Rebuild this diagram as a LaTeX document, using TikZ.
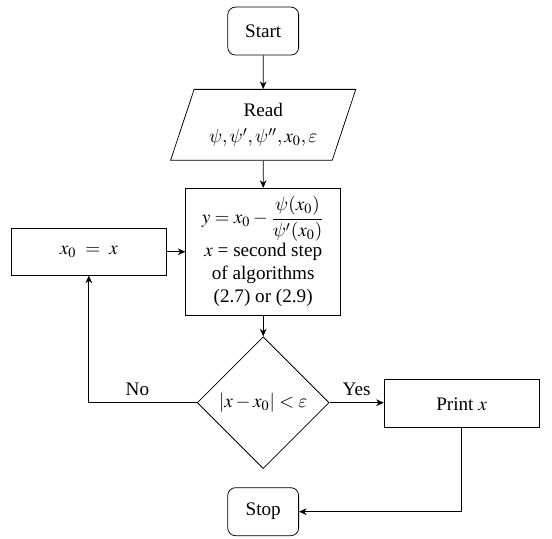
\documentclass[tikz,border=0pt]{standalone}
\usepackage{amsmath}
\usepackage{mathptmx}
\DeclareSymbolFont{cmgreek}{OML}{cmm}{m}{it}
\DeclareMathSymbol{\psi}{\mathord}{cmgreek}{"20}
\DeclareMathSymbol{\varepsilon}{\mathord}{cmgreek}{"22}
\usepackage{fontspec}
\setmainfont{Liberation Serif}
\usepackage{tikz}
\usetikzlibrary{shapes.geometric, arrows.meta}

\begin{document}
\begin{tikzpicture}[
				term/.style={draw, rounded corners=4pt, minimum width=1.3cm, minimum height=0.88cm},
				io/.style={draw, trapezium, trapezium left angle=70, trapezium right angle=110, trapezium stretches=true, minimum width=3.4cm, minimum height=1.3cm, align=center},
				proc/.style={draw, minimum width=2.84cm, align=center},
				cond/.style={draw, diamond, minimum width=2.42cm, minimum height=2.42cm, inner sep=0pt},
				arrow/.style={-{Stealth[length=4pt, width=3.5pt]}}
			]
			\useasboundingbox (0, 0) rectangle (10.13, -9.89);

			% Main column
			\node[term] (start) at (4.83, -0.57) {Start};
			\node[io] (read) at (4.83, -2.29) {Read\\[2pt] $\psi, \psi', \psi'', x_0, \varepsilon$};
			\node[proc, minimum height=2.33cm] (step) at (4.83, -4.62)
				{$y = x_0 - \dfrac{\psi(x_0)}{\psi'(x_0)}$\\ $x$ = second step\\ of algorithms\\ (2.7) or (2.9)};
			\node[cond] (test) at (4.83, -7.39) {$|x - x_0| < \varepsilon$};
			\node[term] (stop) at (4.83, -9.39) {Stop};

			% Side boxes
			\node[proc, minimum height=0.86cm] (update) at (1.63, -4.62) {$x_0 ~=~ x$};
			\node[proc, minimum height=0.88cm] (print) at (8.47, -7.41) {Print $x$};

			% Connectors
			\draw[arrow] (start) -- (read);
			\draw[arrow] (read) -- (step);
			\draw[arrow] (step) -- (test);
			\draw[arrow] (update) -- (step);
			\draw[arrow] (test.east) -- node[above] {Yes} (print.west |- test.east);
			\draw[arrow] (test.west) -- node[above, pos=0.55] {No} (update.south |- test.west) -- (update.south);
			\draw[arrow] (print.south) |- (stop.east);
		\end{tikzpicture}
\end{document}
